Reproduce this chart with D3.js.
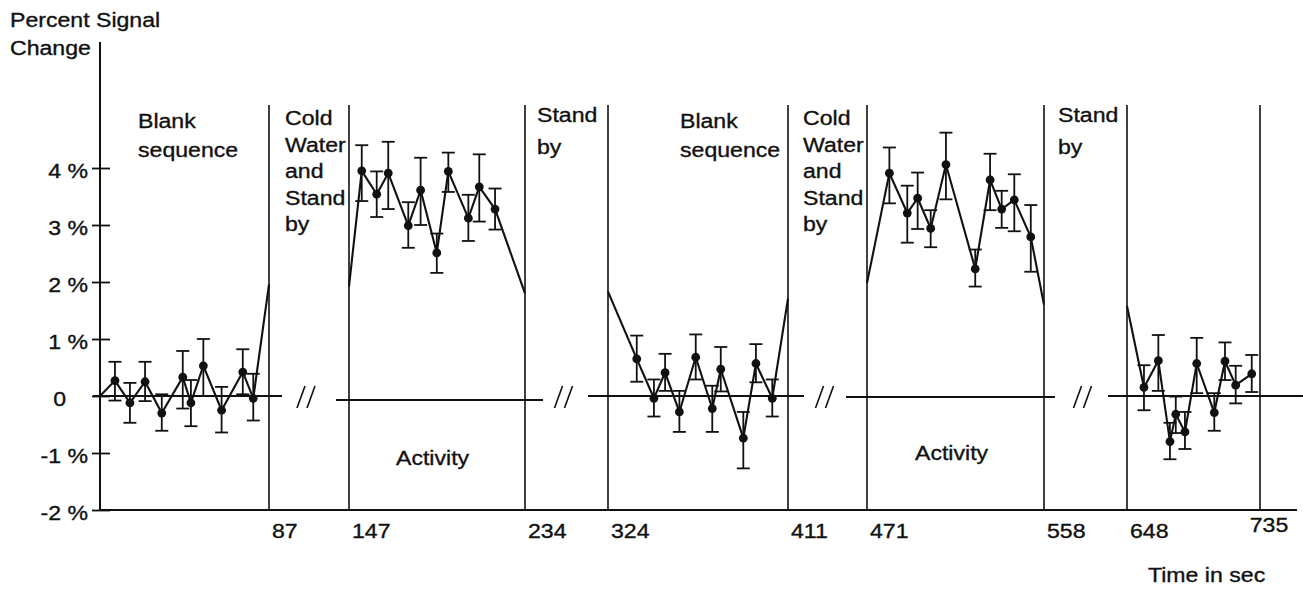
<!DOCTYPE html>
<html>
<head>
<meta charset="utf-8">
<script src="https://cdn.jsdelivr.net/npm/d3@7"></script>
<style>
  body { margin: 0; background: #fff; }
  text { font-family: "Liberation Sans", Arial, Helvetica, sans-serif; font-size: 21px; fill: #111; stroke: #111; stroke-width: 0.35px; }
</style>
</head>
<body>
<svg id="chart"></svg>
<script>
// recording blocks (sec) and axis labels
const blocks = [[0, 87], [147, 234], [324, 411], [471, 558], [648, 735]];
const timeTicks = [87, 147, 234, 324, 411, 471, 558, 648, 735];
const yTicks = [-2, -1, 0, 1, 2, 3, 4];

// value where each block's trace enters / leaves the block border
const startValues = [0, 1.92, 1.83, 1.98, 1.58];
const endValues = [1.96, 1.80, 1.71, 1.60, null];

// block 1: blank sequence
const times1 = [7.7, 15.4, 23.2, 31.8, 42.6, 46.8, 53.2, 62.6, 73.5, 78.9];
const mean1 = [0.27, -0.12, 0.25, -0.30, 0.33, -0.12, 0.53, -0.25, 0.42, -0.04];
const hi1 = [0.60, 0.23, 0.60, 0.03, 0.79, 0.28, 1.00, 0.16, 0.82, 0.39];
const lo1 = [-0.08, -0.47, -0.09, -0.61, -0.22, -0.53, 0.00, -0.64, 0.03, -0.43];

// block 2: activity
const times2 = [153.3, 160.7, 166.4, 176.3, 182.4, 190.4, 196.1, 206.0, 211.4, 219.2];
const mean2 = [3.95, 3.54, 3.91, 2.99, 3.61, 2.51, 3.94, 3.12, 3.67, 3.28];
const hi2 = [4.40, 3.94, 4.46, 3.40, 4.18, 2.85, 4.27, 3.53, 4.24, 3.64];
const lo2 = [3.42, 3.14, 3.28, 2.60, 3.00, 2.16, 3.58, 2.72, 3.06, 2.92];

// block 3: blank sequence
const times3 = [337.9, 346.2, 351.6, 358.5, 366.4, 374.4, 378.5, 389.4, 395.5, 403.4];
const mean3 = [0.65, -0.04, 0.41, -0.28, 0.68, -0.22, 0.47, -0.74, 0.57, -0.04];
const hi3 = [1.06, 0.29, 0.74, 0.09, 1.08, 0.18, 0.86, -0.28, 0.91, 0.29];
const lo3 = [0.25, -0.36, 0.09, -0.63, 0.29, -0.63, 0.08, -1.27, 0.24, -0.36];

// block 4: activity
const times4 = [482.0, 490.8, 495.9, 502.3, 509.8, 524.2, 531.5, 537.2, 543.4, 551.5];
const mean4 = [3.91, 3.21, 3.47, 2.94, 4.06, 2.23, 3.79, 3.28, 3.44, 2.79];
const hi4 = [4.36, 3.69, 3.92, 3.26, 4.62, 2.57, 4.25, 3.60, 3.89, 3.35];
const lo4 = [3.38, 2.69, 2.93, 2.61, 3.45, 1.92, 3.26, 2.95, 2.89, 2.18];

// block 5: after stand by
const times5 = [659.1, 668.5, 676.1, 679.9, 685.9, 693.6, 705.1, 712.1, 719.1, 729.6];
const mean5 = [0.15, 0.62, -0.80, -0.32, -0.63, 0.57, -0.29, 0.61, 0.19, 0.39];
const hi5 = [0.54, 1.07, -0.47, -0.01, -0.28, 1.02, 0.05, 0.94, 0.53, 0.72];
const lo5 = [-0.25, 0.09, -1.11, -0.65, -0.93, 0.05, -0.61, 0.28, -0.13, 0.07];

const headerLabels = [
    ["Blank", "sequence"],
    ["Cold", "Water", "and", "Stand", "by"],
    ["Stand", "by"],
    ["Blank", "sequence"],
    ["Cold", "Water", "and", "Stand", "by"],
    ["Stand", "by"]
];
const activityLabel = "Activity";

const series = [
    { t: times1, m: mean1, hi: hi1, lo: lo1 },
    { t: times2, m: mean2, hi: hi2, lo: lo2 },
    { t: times3, m: mean3, hi: hi3, lo: lo3 },
    { t: times4, m: mean4, hi: hi4, lo: lo4 },
    { t: times5, m: mean5, hi: hi5, lo: lo5 }
];

// Setup
const width = 1303, height = 589;
const svg = d3.select("#chart").attr("width", width).attr("height", height);

// broken time axis: each block drawn on its own stretch of the page
const x = d3.scaleLinear()
    .domain(blocks.flat())
    .range([100, 269, 349, 525, 608, 788, 867, 1044, 1127, 1260]);

const y = d3.scaleLinear()
    .domain([-2, 4])
    .range([510, 168]);

const ink = "#111";

function label(g, px, py, txt, anchor) {
    return g.append("text")
        .attr("transform", `translate(${px},${py}) scale(1.1,1)`)
        .attr("text-anchor", anchor || "start")
        .text(txt);
}

// zero lines per block (the activity baselines sit a hair lower in the scan)
const zeroExt = [[7, 13], [13, 18], [20, 16], [21, 11], [19, 60]];
const zeroDrop = [0, 4, 0, 1, 0];
blocks.forEach((b, i) => {
    svg.append("line")
        .attr("x1", x(b[0]) - zeroExt[i][0])
        .attr("x2", Math.min(width, x(b[1]) + zeroExt[i][1]))
        .attr("y1", y(0) + zeroDrop[i]).attr("y2", y(0) + zeroDrop[i])
        .attr("stroke", ink).attr("stroke-width", 2);
});

// bottom line at -2 %
svg.append("line")
    .attr("x1", x(0)).attr("x2", 1297)
    .attr("y1", y(-2)).attr("y2", y(-2))
    .attr("stroke", ink).attr("stroke-width", 2);

// y axis
svg.append("line")
    .attr("x1", x(0)).attr("x2", x(0))
    .attr("y1", 42).attr("y2", y(-2))
    .attr("stroke", ink).attr("stroke-width", 2);

const yAxis = svg.append("g")
    .attr("transform", `translate(${x(0)},0)`)
    .call(d3.axisLeft(y)
        .tickValues(yTicks)
        .tickSize(8)
        .tickFormat(d => d === 0 ? "0" : d + " %"));
yAxis.select(".domain").remove();
yAxis.attr("font-family", null).attr("font-size", null);
yAxis.selectAll(".tick line")
    .attr("x1", 10).attr("x2", -8)
    .attr("stroke", ink).attr("stroke-width", 1.8);
yAxis.selectAll(".tick text")
    .attr("x", d => (d === 0 ? -34 : -12) / 1.1)
    .attr("dy", "0.43em")
    .attr("transform", "scale(1.1,1)")
    .attr("fill", ink);

// block borders
const borderTop = 105;
blocks.forEach((b, i) => {
    const edges = i === 0 ? [b[1]] : b;
    edges.forEach(t => {
        svg.append("line")
            .attr("x1", x(t)).attr("x2", x(t))
            .attr("y1", borderTop).attr("y2", y(-2))
            .attr("stroke", ink).attr("stroke-width", 1.6);
    });
});

// break marks between blocks
const gaps = d3.pairs(blocks).map(([a, b]) => (x(a[1]) + x(b[0])) / 2 - 3);
gaps.forEach(cx => {
    [-5, 5].forEach(off => {
        svg.append("line")
            .attr("x1", cx + off - 4).attr("y1", y(0) + 12)
            .attr("x2", cx + off + 4).attr("y2", y(0) - 10)
            .attr("stroke", ink).attr("stroke-width", 1.6);
    });
});

// data traces with error bars
const line = d3.line().x(d => x(d[0])).y(d => y(d[1]));
series.forEach((s, i) => {
    const pts = [[blocks[i][0], startValues[i]]];
    s.t.forEach((t, j) => pts.push([t, s.m[j]]));
    if (endValues[i] !== null) pts.push([blocks[i][1], endValues[i]]);

    const g = svg.append("g");

    const bars = g.selectAll(".err")
        .data(s.t.map((t, j) => ({ t, hi: s.hi[j], lo: s.lo[j] })))
        .join("g")
        .attr("stroke", ink)
        .attr("stroke-width", 1.8);
    bars.append("line")
        .attr("x1", d => x(d.t)).attr("x2", d => x(d.t))
        .attr("y1", d => y(d.hi)).attr("y2", d => y(d.lo));
    bars.append("line")
        .attr("x1", d => x(d.t) - 6.5).attr("x2", d => x(d.t) + 6.5)
        .attr("y1", d => y(d.hi)).attr("y2", d => y(d.hi));
    bars.append("line")
        .attr("x1", d => x(d.t) - 6.5).attr("x2", d => x(d.t) + 6.5)
        .attr("y1", d => y(d.lo)).attr("y2", d => y(d.lo));

    g.append("path")
        .datum(pts)
        .attr("d", line)
        .attr("fill", "none")
        .attr("stroke", ink)
        .attr("stroke-width", 2.1);

    g.selectAll("circle")
        .data(s.t.map((t, j) => [t, s.m[j]]))
        .join("circle")
        .attr("cx", d => x(d[0]))
        .attr("cy", d => y(d[1]))
        .attr("r", 4.4)
        .attr("fill", ink);
});

// texts
const txt = svg.append("g");
label(txt, 10, 27, "Percent Signal");
label(txt, 10, 55, "Change");

const headerPos = [
    { x: 138, y: 128, step: 29 },
    { x: 285, y: 125, step: 26.5 },
    { x: 537, y: 122, step: 32 },
    { x: 680, y: 128, step: 29 },
    { x: 803, y: 125, step: 26.5 },
    { x: 1058, y: 122, step: 32 }
];
headerLabels.forEach((lines, i) => {
    lines.forEach((s, j) => label(txt, headerPos[i].x, headerPos[i].y + j * headerPos[i].step, s));
});

label(txt, 396, 465, activityLabel);
label(txt, 915, 460, activityLabel);

timeTicks.forEach((t, i) => {
    if (i === timeTicks.length - 1) label(txt, x(t) + 9, 532, t, "middle");
    else label(txt, x(t) + 3, 538, t);
});

label(txt, 1148, 582, "Time in sec");
</script>
</body>
</html>
